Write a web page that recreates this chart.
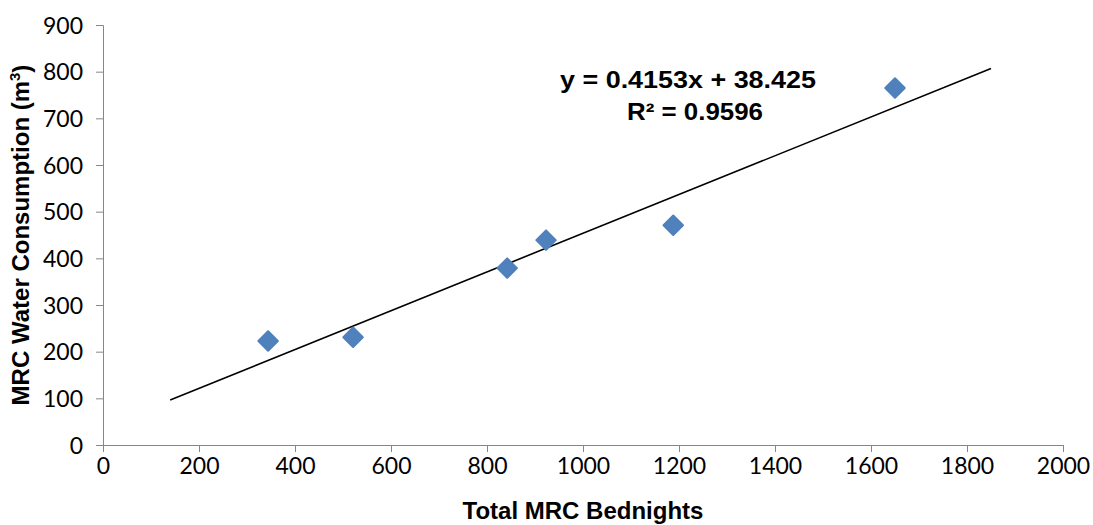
<!doctype html>
<html>
  <head>
    <meta charset="utf-8" />
    <title>MRC Water Consumption vs Bednights</title>
    <script src="https://cdn.jsdelivr.net/npm/d3@7"></script>
    <style>
      html,
      body {
        margin: 0;
        background: #fff;
        overflow: hidden;
      }
      .tick text {
        font-family: Lato, "Open Sans", sans-serif;
        font-size: 23px;
        fill: #000;
      }
      .title {
        font-family: "Liberation Sans", Arial, sans-serif;
        font-weight: bold;
        font-size: 24px;
      }
    </style>
  </head>
  <body>
    <script>
      // Bednights vs water consumption
      const bednights = [344, 521, 842, 923, 1188, 1650];
      const water = [223, 231, 379, 439, 471, 765];
      const xTicks = [0, 200, 400, 600, 800, 1000, 1200, 1400, 1600, 1800, 2000];
      const yTicks = [0, 100, 200, 300, 400, 500, 600, 700, 800, 900];
      // Excel linear trendline
      const slope = 0.4153;
      const intercept = 38.425;
      const trendRange = [140, 1850];
      const eqLines = ["y = 0.4153x + 38.425", "R² = 0.9596"];

      const width = 1093;
      const height = 525;
      const margin = { top: 25, right: 30, bottom: 80, left: 103 };
      const axisColor = "#868686";
      const markerColor = "#4f81bd";

      const x = d3
        .scaleLinear()
        .domain([0, 2000])
        .range([margin.left, width - margin.right]);
      const y = d3
        .scaleLinear()
        .domain([0, 900])
        .range([height - margin.bottom, margin.top]);

      const svg = d3
        .select("body")
        .append("svg")
        .attr("width", width)
        .attr("height", height);

      // x axis
      const xAxis = svg
        .append("g")
        .attr("transform", `translate(0,${y(0)})`)
        .call(
          d3
            .axisBottom(x)
            .tickValues(xTicks)
            .tickFormat(d3.format("d"))
            .tickSize(7)
            .tickPadding(6),
        );
      xAxis.selectAll("path, line").attr("stroke", axisColor);

      // y axis
      const yAxis = svg
        .append("g")
        .attr("transform", `translate(${x(0)},0)`)
        .call(
          d3
            .axisLeft(y)
            .tickValues(yTicks)
            .tickFormat(d3.format("d"))
            .tickSize(7)
            .tickPadding(13),
        );
      yAxis.selectAll("path, line").attr("stroke", axisColor);
      yAxis.selectAll(".tick text").attr("dy", "0.36em");

      // trendline
      svg
        .append("line")
        .attr("x1", x(trendRange[0]))
        .attr("y1", y(slope * trendRange[0] + intercept))
        .attr("x2", x(trendRange[1]))
        .attr("y2", y(slope * trendRange[1] + intercept))
        .attr("stroke", "#000")
        .attr("stroke-width", 1.6);

      // diamond markers
      const points = bednights.map((b, i) => ({ x: b, y: water[i] }));
      svg
        .append("g")
        .selectAll("path")
        .data(points)
        .join("path")
        .attr("d", d3.symbol(d3.symbolSquare, 190))
        .attr("transform", (d) => `translate(${x(d.x)},${y(d.y)}) rotate(45)`)
        .attr("fill", markerColor)
        .attr("stroke", markerColor)
        .attr("stroke-linejoin", "round")
        .attr("stroke-width", 2);

      // equation label
      const eq = svg
        .append("g")
        .attr("class", "title")
        .attr("text-anchor", "middle");
      eq.append("text")
        .attr("x", 688)
        .attr("y", 88)
        .style("font-size", "24px")
        .attr("textLength", 256)
        .attr("lengthAdjust", "spacingAndGlyphs")
        .text(eqLines[0]);
      eq.append("text")
        .attr("x", 695)
        .attr("y", 120)
        .style("font-size", "24px")
        .attr("textLength", 136)
        .attr("lengthAdjust", "spacingAndGlyphs")
        .text(eqLines[1]);

      // axis titles
      svg
        .append("text")
        .attr("class", "title")
        .attr("x", (x(0) + x(2000)) / 2)
        .attr("y", 519)
        .attr("text-anchor", "middle")
        .text("Total MRC Bednights");

      const yTitle = svg
        .append("text")
        .attr("class", "title")
        .attr("transform", `translate(29,${(y(0) + y(900)) / 2}) rotate(-90)`)
        .attr("text-anchor", "middle");
      yTitle.append("tspan").text("MRC Water Consumption (m");
      yTitle
        .append("tspan")
        .style("font-size", "15px")
        .attr("dy", "-0.6em")
        .text("3");
      yTitle.append("tspan").attr("dy", "0.4em").text(")");
    </script>
  </body>
</html>
